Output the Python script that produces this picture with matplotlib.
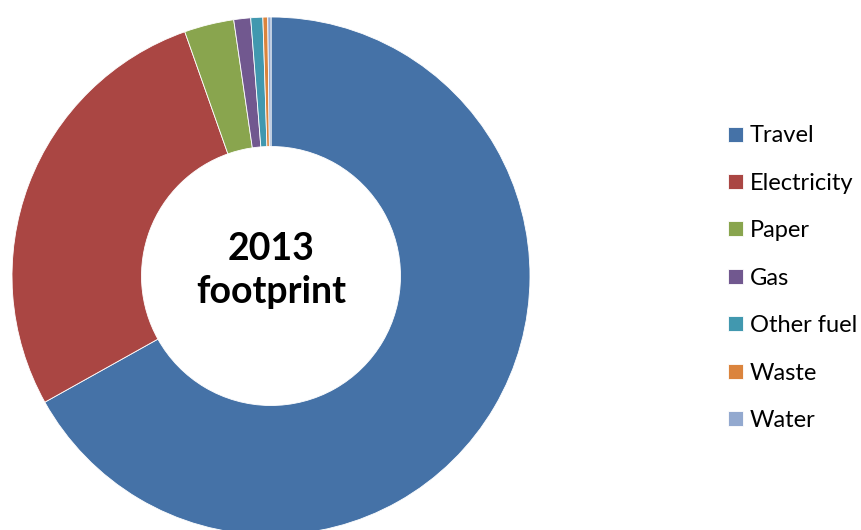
import matplotlib.pyplot as plt

# Datos
categorias = ['Travel', 'Electricity', 'Paper', 'Gas', 'Other fuel', 'Waste', 'Water']
valores = [66.9, 27.7, 3.1, 1.05, 0.75, 0.3, 0.2]
colores = ['#4572A7', '#AA4643', '#89A54E', '#71588F', '#4198AF', '#DB843D', '#93A9CF']

plt.rcParams['font.family'] = ['Lato', 'DejaVu Sans']

fig = plt.figure(figsize=(8.61, 5.30), dpi=100)
ax = fig.add_axes([12 / 861, -5 / 530, 518 / 861, 518 / 530])
wedges, _ = ax.pie(valores, colors=colores, startangle=90, counterclock=False,
                   radius=1, wedgeprops=dict(width=0.5, edgecolor='white', linewidth=0.6))
ax.set_xlim(-1, 1)
ax.set_ylim(-1, 1)
ax.set_aspect('equal')

ax.text(0, 0.02, '2013\nfootprint', ha='center', va='center', fontsize=27,
        fontweight='bold', linespacing=1.32)

fig.legend(wedges, categorias, loc='center left', bbox_to_anchor=(0.835, 0.475),
           frameon=False, fontsize=17, handlelength=0.6, handleheight=0.6,
           handletextpad=0.3, labelspacing=1.12, borderaxespad=0)

plt.savefig('out.png', dpi=100)
